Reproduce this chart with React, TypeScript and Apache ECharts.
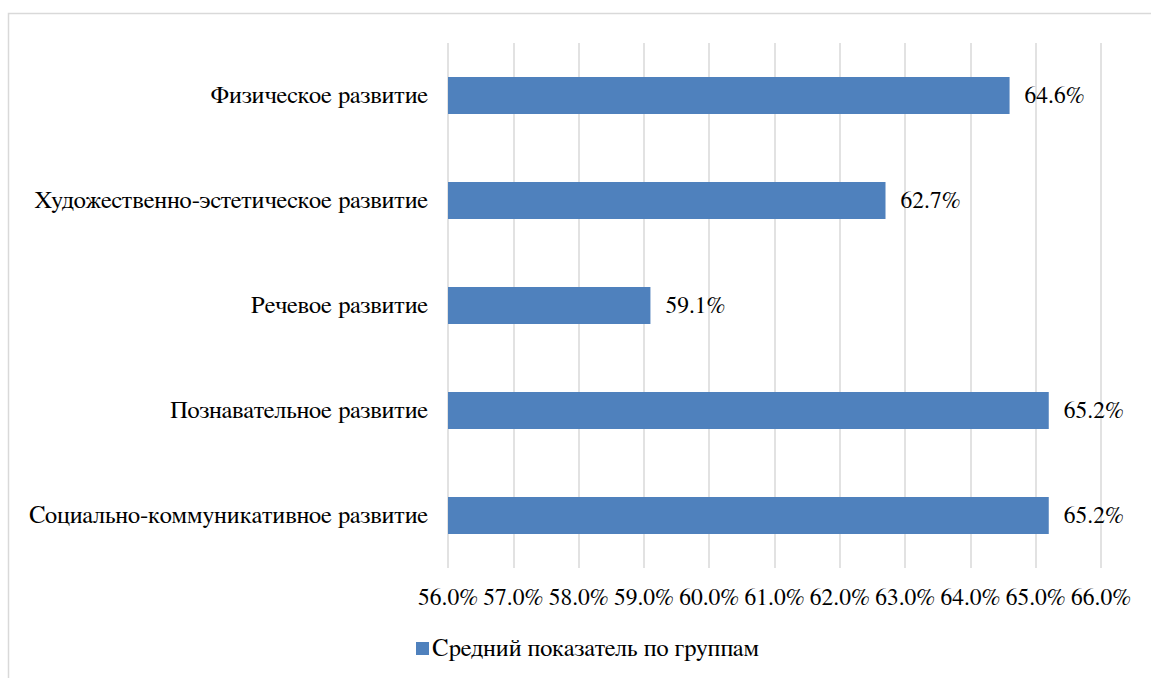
import React, { useEffect, useRef } from "react";
import * as echarts from "echarts";

const categories = [
  "Социально-коммуникативное развитие",
  "Познавательное развитие",
  "Речевое развитие",
  "Художественно-эстетическое развитие",
  "Физическое развитие",
];
const values = [65.2, 65.2, 59.1, 62.7, 64.6];
const seriesName = "Средний показатель по группам";
const axisMin = 56;
const axisMax = 66;
const axisStep = 1;

const FONT = "FreeSerif";
const FS_TEXT = 24.5;
const FS_NUM = 23.5;

export default function App() {
  const ref = useRef<HTMLDivElement>(null);
  useEffect(() => {
    document.body.style.margin = "0";
    const chart = echarts.init(ref.current!, null, { renderer: "svg" });
    chart.setOption({
      animation: false,
      backgroundColor: "#fff",
      graphic: [
        {
          type: "rect",
          shape: { x: 8.5, y: 13.5, width: 1300, height: 800 },
          style: { fill: "none", stroke: "#d9d9d9", lineWidth: 1.5 },
          silent: true,
        },
      ],
      grid: { left: 448, right: 50, top: 43, bottom: 110, containLabel: false },
      legend: {
        data: [seriesName],
        left: 411,
        top: 631,
        itemWidth: 13,
        itemHeight: 13,
        itemGap: 6,
        icon: "rect",
        textStyle: { fontFamily: FONT, fontSize: FS_TEXT, color: "#000", padding: [0, 0, 0, -2] },
      },
      xAxis: {
        type: "value",
        min: axisMin,
        max: axisMax,
        interval: axisStep,
        axisLine: { show: false },
        axisTick: { show: false },
        splitLine: { show: true, lineStyle: { color: "#d9d9d9", width: 1.5 } },
        axisLabel: {
          fontFamily: FONT,
          fontSize: FS_NUM,
          color: "#000",
          margin: 18,
          formatter: (v: number) => v.toFixed(1) + "%",
        },
      },
      yAxis: {
        type: "category",
        data: categories,
        axisLine: { show: false },
        axisTick: { show: false },
        splitLine: { show: false },
        axisLabel: { fontFamily: FONT, fontSize: FS_TEXT, color: "#000", margin: 20 },
      },
      series: [
        {
          name: seriesName,
          type: "bar",
          data: values,
          barWidth: 37,
          itemStyle: { color: "#4F81BD" },
          label: {
            show: true,
            position: "right",
            distance: 15,
            fontFamily: FONT,
            fontSize: FS_NUM,
            color: "#000",
            formatter: (p: any) => Number(p.value).toFixed(1) + "%",
          },
        },
      ],
    });
    return () => chart.dispose();
  }, []);
  return (
    <div
      ref={ref}
      style={{ position: "absolute", left: 0, top: 0, width: 1151, height: 678 }}
    />
  );
}
